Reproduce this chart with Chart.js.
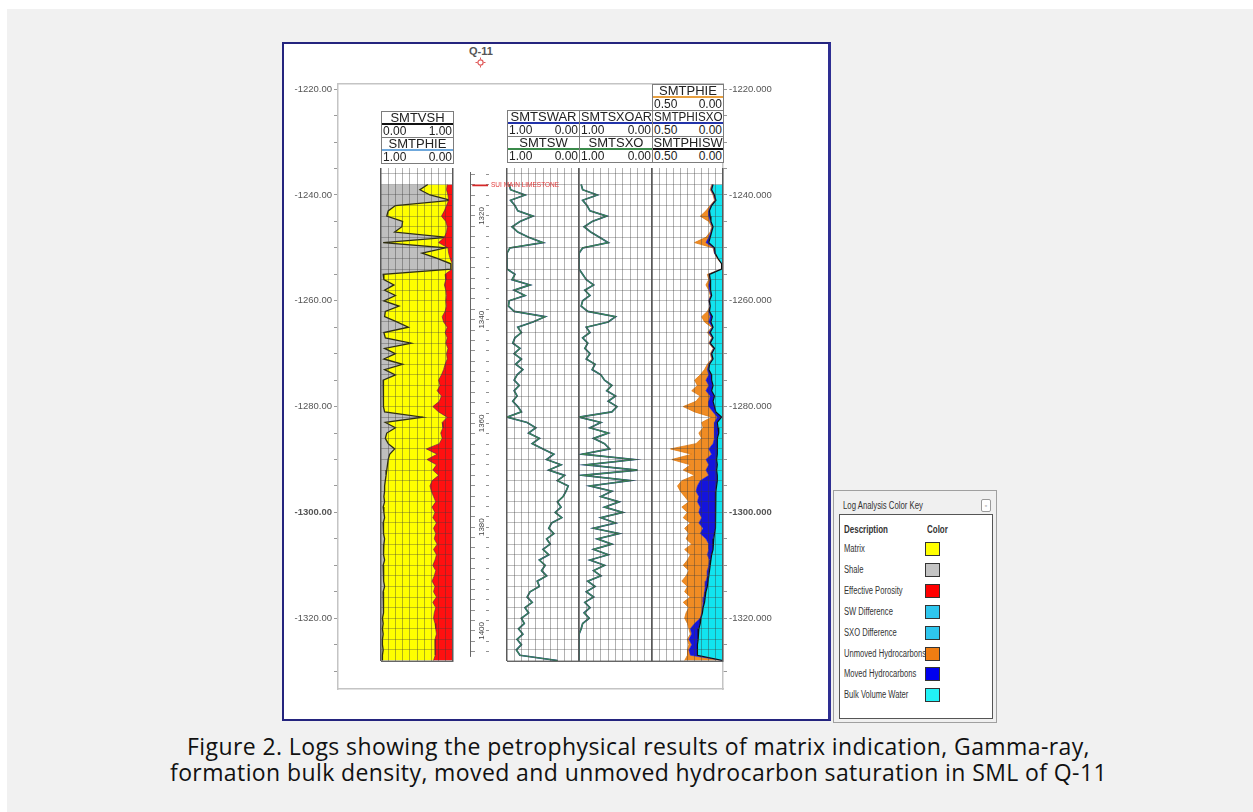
<!DOCTYPE html>
<html>
<head>
<meta charset="utf-8">
<script src="https://cdn.jsdelivr.net/npm/chart.js@4.4.1/dist/chart.umd.min.js"></script>
<style>
html, body { margin: 0; padding: 0; background: #fff; }
body { width: 1253px; height: 812px; position: relative; overflow: hidden; font-family: "Liberation Sans", Arial, sans-serif; }
#page { position: absolute; left: 7px; top: 9px; width: 1246px; height: 803px; background: #f1f1f1; }
#panel { position: absolute; left: 282px; top: 42px; width: 549px; height: 679px; box-sizing: border-box;
         background: #fff; border: 2px solid #24247e; border-right: 3px solid #2e2e92; }
canvas { position: absolute; }
.hdr { position: absolute; box-sizing: border-box; border: 1.5px solid #7d7d7d; background: #fff; color: #222; }
.grp + .grp { border-top: 1.5px solid #7d7d7d; }
.nm { height: 11px; border-bottom: 2px solid; font-size: 13px; line-height: 12px; display: flex; justify-content: center; white-space: nowrap; }
.nm span { display: inline-block; transform-origin: center; }
.sc { height: 12px; font-size: 12px; line-height: 12px; display: flex; justify-content: space-between; padding: 0 1px; color: #222; }
#well { position: absolute; left: 469px; top: 45px; font-size: 11px; font-weight: bold; color: #555; }
#key { position: absolute; left: 833px; top: 490px; width: 164px; height: 233px; box-sizing: border-box;
       border: 1px solid #a0a0a0; background: #f0f0f0; color: #333; font-family: "Liberation Sans", Arial, sans-serif; }
#key .kt { position: absolute; left: 9px; top: 8px; font-size: 10.5px; white-space: nowrap; transform: scaleX(0.74); transform-origin: left center; }
#key .kx { position: absolute; left: 147px; top: 8px; width: 8px; height: 11px; border: 1px solid #999; border-radius: 2px;
           background: #fff; font-size: 7px; line-height: 11px; text-align: center; color: #777; }
#key .kin { position: absolute; left: 5px; top: 23px; width: 154px; height: 205px; box-sizing: border-box; border: 1px solid #555; background: #fff; }
#key .kr { position: absolute; left: 4px; font-size: 10px; line-height: 12px; white-space: nowrap; transform: scaleX(0.76); transform-origin: left center; }
#key .kh { font-weight: bold; font-size: 10.5px; }
#key .sw { position: absolute; left: 85px; width: 15px; height: 14px; box-sizing: border-box; border: 1px solid #333; }
#cap { position: absolute; left: 12px; top: 733px; width: 1253px; text-align: center;
       font: 23px/26px "Open Sans", Lato, sans-serif; letter-spacing: 0.4px; color: #111; }
</style>
</head>
<body>
<div id="page"></div>
<div id="panel"></div>
<canvas id="frame"></canvas>
<canvas id="t1"></canvas>
<canvas id="t3"></canvas>
<canvas id="t4"></canvas>
<canvas id="t5"></canvas>
<canvas id="t2"></canvas>
<div id="well">Q-11</div>
<svg style="position:absolute;left:475px;top:57px" width="11" height="11">
  <circle cx="5.5" cy="5.5" r="2.6" fill="none" stroke="#e05a5a" stroke-width="1.2"/>
  <path d="M5.5 0.5V2.5M5.5 8.5V10.5M0.5 5.5H2.5M8.5 5.5H10.5" stroke="#e05a5a" stroke-width="1"/>
</svg>
<div id="headers"></div>
<div id="key"></div>
<div id="cap">Figure 2. Logs showing the petrophysical results of matrix indication, Gamma-ray,<br>formation bulk density, moved and unmoved hydrocarbon saturation in SML of Q-11</div>

<script>
// ── Log samples, TVDSS (m), one per metre ──
const DEPTH = [
  -1238, -1239, -1240, -1241, -1242, -1243, -1244, -1245, -1246, -1247,
  -1248, -1249, -1250, -1251, -1252, -1253, -1254, -1255, -1256, -1257,
  -1258, -1259, -1260, -1261, -1262, -1263, -1264, -1265, -1266, -1267,
  -1268, -1269, -1270, -1271, -1272, -1273, -1274, -1275, -1276, -1277,
  -1278, -1279, -1280, -1281, -1282, -1283, -1284, -1285, -1286, -1287,
  -1288, -1289, -1290, -1291, -1292, -1293, -1294, -1295, -1296, -1297,
  -1298, -1299, -1300, -1301, -1302, -1303, -1304, -1305, -1306, -1307,
  -1308, -1309, -1310, -1311, -1312, -1313, -1314, -1315, -1316, -1317,
  -1318, -1319, -1320, -1321, -1322, -1323, -1324, -1325, -1326, -1327,
  -1328
];
const VSH = [
  0.65, 0.54, 0.68, 0.97, 0.20, 0.10, 0.08, 0.30, 0.29, 0.19,
  0.92, 0.03, 0.90, 0.57, 0.78, 0.97, 0.97, 0.03, 0.04, 0.18,
  0.05, 0.20, 0.04, 0.25, 0.06, 0.05, 0.22, 0.38, 0.04, 0.06,
  0.42, 0.05, 0.20, 0.04, 0.30, 0.05, 0.20, 0.03, 0.04, 0.03,
  0.04, 0.03, 0.03, 0.05, 0.58, 0.06, 0.20, 0.08, 0.06, 0.10,
  0.19, 0.12, 0.10, 0.09, 0.08, 0.07, 0.06, 0.05, 0.05, 0.04,
  0.05, 0.03, 0.04, 0.05, 0.03, 0.04, 0.03, 0.05, 0.04, 0.03,
  0.04, 0.05, 0.03, 0.04, 0.03, 0.04, 0.05, 0.03, 0.04, 0.03,
  0.04, 0.03, 0.02, 0.03, 0.02, 0.03, 0.02, 0.02, 0.03, 0.02,
  0.02
];
const PHIE = [
  0.08, 0.09, 0.07, 0.06, 0.09, 0.12, 0.16, 0.10, 0.08, 0.09,
  0.12, 0.20, 0.07, 0.06, 0.04, 0.01, 0.01, 0.11, 0.10, 0.12,
  0.10, 0.09, 0.10, 0.09, 0.11, 0.15, 0.13, 0.08, 0.11, 0.08,
  0.10, 0.07, 0.09, 0.08, 0.11, 0.13, 0.16, 0.20, 0.18, 0.22,
  0.16, 0.19, 0.28, 0.20, 0.08, 0.15, 0.14, 0.17, 0.15, 0.19,
  0.37, 0.22, 0.36, 0.23, 0.28, 0.20, 0.29, 0.32, 0.30, 0.27,
  0.24, 0.29, 0.25, 0.28, 0.23, 0.27, 0.24, 0.26, 0.22, 0.27,
  0.23, 0.25, 0.28, 0.24, 0.26, 0.29, 0.25, 0.27, 0.23, 0.28,
  0.24, 0.26, 0.27, 0.25, 0.24, 0.23, 0.25, 0.24, 0.25, 0.25,
  0.27
];
const SW = [
  0.97, 0.95, 0.75, 0.95, 0.89, 0.85, 0.64, 0.82, 0.93, 0.85,
  0.70, 0.50, 0.96, 1.00, 1.00, 1.00, 1.00, 0.89, 0.93, 0.68,
  0.90, 0.75, 0.97, 0.98, 0.90, 0.47, 0.64, 0.85, 0.80, 0.89,
  0.92, 0.82, 0.90, 0.80, 0.88, 0.78, 0.86, 0.90, 0.83, 0.90,
  0.86, 0.92, 0.85, 0.80, 1.00, 0.72, 0.60, 0.70, 0.55, 0.65,
  0.50, 0.35, 0.45, 0.25, 0.42, 0.20, 0.30, 0.15, 0.18, 0.22,
  0.30, 0.25, 0.33, 0.24, 0.38, 0.42, 0.35, 0.45, 0.40, 0.50,
  0.42, 0.55, 0.47, 0.52, 0.45, 0.58, 0.55, 0.68, 0.72, 0.65,
  0.75, 0.70, 0.80, 0.76, 0.84, 0.78, 0.86, 0.80, 0.87, 0.82,
  0.30
];
const SXO = [
  0.97, 0.95, 0.75, 0.95, 0.89, 0.85, 0.62, 0.82, 0.93, 0.84,
  0.72, 0.60, 0.95, 1.00, 1.00, 1.00, 1.00, 0.95, 0.90, 0.80,
  0.92, 0.85, 0.95, 0.97, 0.88, 0.50, 0.60, 0.90, 0.85, 0.95,
  0.88, 0.92, 0.85, 0.90, 0.78, 0.82, 0.70, 0.65, 0.55, 0.62,
  0.50, 0.60, 0.48, 0.55, 1.00, 0.70, 0.85, 0.60, 0.80, 0.65,
  0.58, 0.95, 0.25, 0.90, 0.20, 0.95, 0.30, 0.85, 0.55, 0.70,
  0.45, 0.65, 0.40, 0.70, 0.50, 0.80, 0.45, 0.75, 0.55, 0.80,
  0.60, 0.85, 0.65, 0.80, 0.70, 0.88, 0.78, 0.90, 0.80, 0.92,
  0.85, 0.93, 0.86, 0.95, 0.97, 1.00, 1.00, 1.00, 1.00, 1.00,
  1.00
];
const PHISXO = [
  0.075, 0.085, 0.065, 0.055, 0.085, 0.100, 0.100, 0.090, 0.075, 0.085,
  0.100, 0.120, 0.065, 0.060, 0.035, 0.010, 0.010, 0.100, 0.090, 0.100,
  0.095, 0.085, 0.100, 0.090, 0.100, 0.090, 0.100, 0.075, 0.100, 0.075,
  0.095, 0.065, 0.085, 0.075, 0.100, 0.110, 0.100, 0.120, 0.100, 0.120,
  0.090, 0.100, 0.100, 0.070, 0.040, 0.060, 0.060, 0.060, 0.060, 0.070,
  0.100, 0.080, 0.120, 0.100, 0.120, 0.100, 0.160, 0.180, 0.190, 0.170,
  0.180, 0.160, 0.170, 0.150, 0.170, 0.140, 0.160, 0.120, 0.100, 0.100,
  0.110, 0.095, 0.100, 0.110, 0.110, 0.120, 0.125, 0.130, 0.135, 0.140,
  0.145, 0.150, 0.160, 0.200, 0.230, 0.220, 0.240, 0.220, 0.240, 0.230,
  0.000
];
const PHISW = [
  0.070, 0.080, 0.060, 0.050, 0.080, 0.095, 0.090, 0.085, 0.070, 0.080,
  0.090, 0.100, 0.060, 0.055, 0.035, 0.010, 0.010, 0.095, 0.090, 0.085,
  0.090, 0.080, 0.095, 0.090, 0.095, 0.075, 0.085, 0.070, 0.090, 0.070,
  0.090, 0.060, 0.080, 0.070, 0.095, 0.100, 0.080, 0.080, 0.070, 0.080,
  0.060, 0.070, 0.060, 0.050, 0.010, 0.040, 0.035, 0.030, 0.040, 0.040,
  0.040, 0.040, 0.045, 0.040, 0.045, 0.040, 0.040, 0.045, 0.050, 0.050,
  0.050, 0.050, 0.055, 0.055, 0.055, 0.055, 0.060, 0.065, 0.070, 0.070,
  0.080, 0.085, 0.090, 0.095, 0.100, 0.105, 0.110, 0.120, 0.125, 0.130,
  0.140, 0.145, 0.155, 0.160, 0.170, 0.175, 0.175, 0.180, 0.180, 0.180,
  0.000
];

// formation tops (MD)
const TOPS = ['SUI MAIN LIMESTONE'];
const TOP_MD = [1314.1];

// tick labels
const TVD_LABELS = [-1220, -1240, -1260, -1280, -1300, -1320];
const MD_LABELS = [1320, 1340, 1360, 1380, 1400];

// colour key
const KEY_LABELS = ['Matrix', 'Shale', 'Effective Porosity', 'SW Difference', 'SXO Difference',
                    'Unmoved Hydrocarbons', 'Moved Hydrocarbons', 'Bulk Volume Water'];
const KEY_COLORS = ['#ffff00', '#c3c3c3', '#ff0000', '#2ec6ee', '#2ec6ee', '#f07d12', '#0000ee', '#22f2f6'];

/* ── Layout: depth to pixel (−1240 m at y=195, 5.29 px per metre) ── */
const PX_PER_M = 5.29;
const tvdAt = y => -1240 - (y - 195) / PX_PER_M;
const mdAt  = y => 1320 + (y - 212) / PX_PER_M;

const FRAME_Y0 = 84, FRAME_Y1 = 689;
const TRACK_Y0 = 168, TRACK_Y1 = 661;
const PAD = 3;

Chart.defaults.font.family = '"Liberation Sans", Arial, sans-serif';

function place(cv, l, t, w, h) {
    cv.width = w; cv.height = h;
    cv.style.left = l + 'px'; cv.style.top = t + 'px';
}

const pts = vals => vals.map((v, i) => ({ x: v, y: DEPTH[i] }));

/* ── Depth frame with left and right TVD scales ── */
(function frame() {
    const cv = document.getElementById('frame');
    place(cv, 290, 70, 500, 635);
    const depthAxis = (pos, digits, width) => ({
        type: 'linear', position: pos,
        min: tvdAt(FRAME_Y1), max: tvdAt(FRAME_Y0),
        afterFit: s => { s.width = width; },
        ticks: {
            stepSize: 5, includeBounds: false, autoSkip: false, padding: 2, color: '#555',
            font: c => ({ size: 9.5, weight: c.tick && c.tick.value === -1300 ? 'bold' : 'normal' }),
            callback: v => TVD_LABELS.includes(v) ? v.toFixed(digits) : '',
        },
        grid: { drawOnChartArea: false, tickLength: 4, tickColor: '#999' },
        border: { color: '#c4c4c4', width: 1.5 },
    });
    const flatAxis = pos => ({
        type: 'linear', position: pos, min: 0, max: 1,
        afterFit: s => { s.height = 0; },
        ticks: { display: false }, grid: { display: false, drawTicks: false },
        border: { color: '#c4c4c4', width: 1.5 },
    });
    new Chart(cv, {
        type: 'scatter',
        data: { datasets: [] },
        options: {
            responsive: false, animation: false, events: [],
            layout: { padding: { top: FRAME_Y0 - 70, bottom: 705 - FRAME_Y1, left: 0, right: 0 } },
            plugins: { legend: { display: false }, tooltip: { enabled: false } },
            scales: {
                x: flatAxis('bottom'), xt: flatAxis('top'),
                y: depthAxis('left', 2, 48), y2: depthAxis('right', 3, 67),
            },
        },
    });
})();

/* ── Log tracks ── */
function gridX(max) {
    const edge = c => c.tick && (Math.abs(c.tick.value) < 1e-9 || Math.abs(c.tick.value - max) < 1e-9);
    return {
        color:     c => edge(c) ? '#5a5a5a' : 'rgba(60,60,60,0.5)',
        lineWidth: c => edge(c) ? 1.5 : 0.8,
        drawTicks: false, z: 1,
    };
}

function valueAxis(max, step, reverse) {
    return {
        type: 'linear', min: 0, max, reverse,
        afterFit: s => { s.height = 0; },
        ticks: { display: false, stepSize: step, autoSkip: false },
        grid: gridX(max),
        border: { display: true, color: '#666', width: 1, z: 1 },
    };
}

function track(id, x0, x1, xScales, datasets) {
    const cv = document.getElementById(id);
    place(cv, x0 - PAD, TRACK_Y0 - PAD, x1 - x0 + 2 * PAD, TRACK_Y1 - TRACK_Y0 + 2 * PAD);
    const scales = {
        y: {
            type: 'linear', min: tvdAt(TRACK_Y1), max: tvdAt(TRACK_Y0),
            afterFit: s => { s.width = 0; },
            ticks: { display: false, stepSize: 2, includeBounds: false, autoSkip: false },
            grid: { color: 'rgba(60,60,60,0.42)', lineWidth: 0.8, drawTicks: false, z: 1 },
            border: { display: false },
        },
        ...xScales,
    };
    return new Chart(cv, {
        type: 'line',
        data: { datasets },
        options: {
            indexAxis: 'y', responsive: false, animation: false, events: [],
            layout: { padding: PAD },
            elements: { point: { radius: 0 }, line: { tension: 0 } },
            plugins: { legend: { display: false }, tooltip: { enabled: false } },
            scales,
        },
    });
}

// Track 1: shale / matrix / effective porosity
track('t1', 381, 453,
    { x: valueAxis(1, 0.1, false), xp: { type: 'linear', display: false, min: 0, max: 1, reverse: true } },
    [
        { data: pts(PHIE), xAxisID: 'xp', borderColor: '#6a2030', borderWidth: 0.7, backgroundColor: '#ff1010', fill: { value: 0 } },
        { data: pts(VSH), borderColor: '#2e2e10', borderWidth: 1.3, backgroundColor: '#bfbfbf', fill: { value: 0 } },
        { data: pts(VSH), borderWidth: 0, backgroundColor: '#ffff00', fill: '-2' },
    ]);

// Track 3: SW and SWAR (overlapping curves)
track('t3', 507, 579, { x: valueAxis(1, 0.1, true) }, [
    { data: pts(SW), borderColor: '#3d8a55', borderWidth: 1.2, fill: false },
    { data: pts(SW), borderColor: '#223c86', borderWidth: 1.7, fill: false },
]);

// Track 4: SXO and SXOAR
track('t4', 579, 652, { x: valueAxis(1, 0.1, true) }, [
    { data: pts(SXO), borderColor: '#3d8a55', borderWidth: 1.2, fill: false },
    { data: pts(SXO), borderColor: '#223c86', borderWidth: 1.7, fill: false },
]);

// Track 5: bulk volume water / moved / unmoved hydrocarbons
track('t5', 652, 723, { x: valueAxis(0.5, 0.05, true) }, [
    { data: pts(PHISW), borderColor: '#111', borderWidth: 1.2, backgroundColor: '#12e4ef', fill: { value: 0 } },
    { data: pts(PHISXO), borderColor: '#1a1ac8', borderWidth: 0.6, backgroundColor: '#1414dc', fill: '-1' },
    { data: pts(PHIE), borderColor: '#e07a10', borderWidth: 0.8, backgroundColor: '#f08c24', fill: '-1' },
]);

// Track 2: measured depth with formation tops
(function depthTrack() {
    const cv = document.getElementById('t2');
    const x0 = 470, x1 = 489, right = 580;
    place(cv, x0 - PAD, TRACK_Y0 - PAD, right - x0 + PAD, TRACK_Y1 - TRACK_Y0 + 2 * PAD);
    const topsLabel = {
        id: 'topsLabel',
        afterDatasetsDraw(chart) {
            const { ctx, chartArea, scales } = chart;
            ctx.save();
            ctx.fillStyle = '#e23b3b';
            ctx.font = '6.5px "Liberation Sans", Arial, sans-serif';
            ctx.textBaseline = 'middle';
            TOPS.forEach((name, i) => ctx.fillText(name, chartArea.right + 2, scales.y.getPixelForValue(TOP_MD[i])));
            ctx.restore();
        },
    };
    new Chart(cv, {
        type: 'scatter',
        data: {
            datasets: TOP_MD.map(md => ({
                data: [{ x: 0.12, y: md }, { x: 0.95, y: md }],
                showLine: true, borderColor: '#d62828', borderWidth: 1.6, pointRadius: 0,
            })),
        },
        options: {
            responsive: false, animation: false, events: [],
            layout: { padding: { left: PAD, top: PAD, bottom: PAD, right: right - x1 } },
            plugins: { legend: { display: false }, tooltip: { enabled: false } },
            scales: {
                x: { type: 'linear', display: false, min: 0, max: 1 },
                y: {
                    type: 'linear', reverse: true, min: mdAt(TRACK_Y0), max: mdAt(TRACK_Y1),
                    afterFit: s => { s.width = 0; },
                    ticks: {
                        stepSize: 2, includeBounds: false, autoSkip: false, mirror: true,
                        minRotation: 90, maxRotation: 90, crossAlign: 'center', padding: 3,
                        color: '#444', font: { size: 8 },
                        callback: v => MD_LABELS.includes(v) ? String(v) : '',
                    },
                    grid: { color: '#777', lineWidth: 0.8, drawTicks: false },
                    border: { display: true, color: '#666', width: 1, dash: [4, 11] },
                },
            },
        },
        plugins: [topsLabel],
    });
})();

/* ── Track headers ── */
const HEADERS = [
    { x0: 381, x1: 453, top: 111, rows: [['SMTVSH', '#111', '0.00', '1.00'], ['SMTPHIE', '#6fa8dc', '1.00', '0.00']] },
    { x0: 507, x1: 579, top: 110, rows: [['SMTSWAR', '#2233aa', '1.00', '0.00'], ['SMTSW', '#3a8a4a', '1.00', '0.00']] },
    { x0: 579, x1: 652, top: 110, rows: [['SMTSXOAR', '#2233aa', '1.00', '0.00'], ['SMTSXO', '#3a8a4a', '1.00', '0.00']] },
    { x0: 652, x1: 723, top: 110, rows: [['SMTPHISXO', '#2233aa', '0.50', '0.00'], ['SMTPHISW', '#111', '0.50', '0.00']] },
    { x0: 652, x1: 723, top: 84,  rows: [['SMTPHIE', '#e8a040', '0.50', '0.00']] },
];
document.getElementById('headers').innerHTML = HEADERS.map(h => `
    <div class="hdr" style="left:${h.x0}px;top:${h.top}px;width:${h.x1 - h.x0 + 1}px">
        ${h.rows.map(([name, col, lo, hi]) => `
        <div class="grp">
            <div class="nm" style="border-bottom-color:${col}"><span>${name}</span></div>
            <div class="sc"><span>${lo}</span><span>${hi}</span></div>
        </div>`).join('')}
    </div>`).join('');
document.querySelectorAll('.nm span').forEach(s => {
    const w = s.parentNode.clientWidth - 1;
    if (s.offsetWidth > w) s.style.transform = `scaleX(${(w / s.offsetWidth).toFixed(3)})`;
});

/* ── Colour key ── */
document.getElementById('key').innerHTML = `
    <div class="kt">Log Analysis Color Key</div>
    <div class="kx">&#9643;</div>
    <div class="kin">
        <div class="kr kh" style="top:8px">Description</div>
        <div class="kr kh" style="top:8px;left:87px">Color</div>
        ${KEY_LABELS.map((lab, i) => `
        <div class="kr" style="top:${(28 + i * 20.9).toFixed(1)}px">${lab}</div>
        <div class="sw" style="top:${(27 + i * 20.9).toFixed(1)}px;background:${KEY_COLORS[i]}"></div>`).join('')}
    </div>`;
</script>
</body>
</html>
